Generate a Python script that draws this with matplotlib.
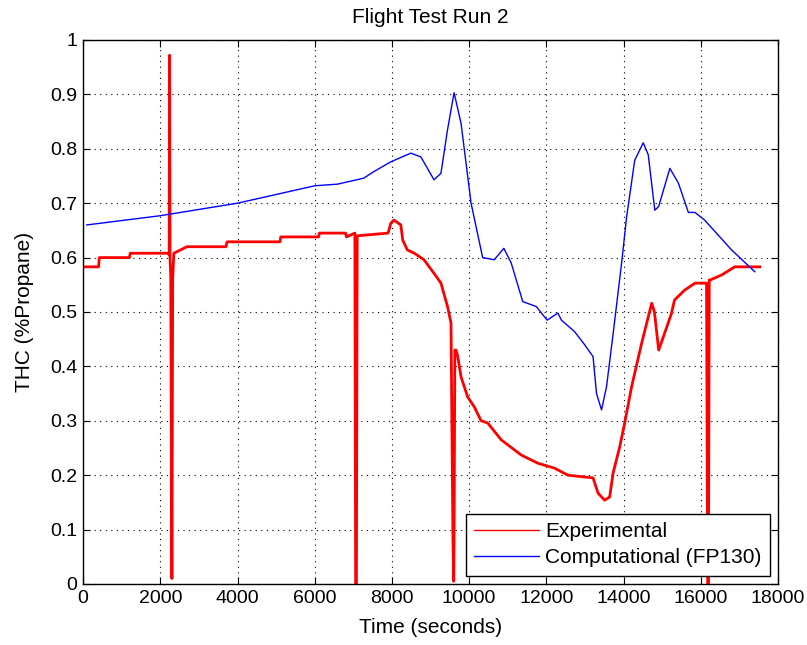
import matplotlib
matplotlib.use("Agg")
import matplotlib.pyplot as plt

plt.rcParams['font.family'] = ['Liberation Sans', 'DejaVu Sans']

# Computational (FP130)
comp_t = [95, 2000, 4000, 6000, 6590, 7270, 7530, 7970, 8490, 8750, 9090, 9270,
          9440, 9610, 9790, 10050, 10350, 10650, 10900, 11090, 11390, 11740,
          12020, 12300, 12390, 12730, 12990, 13210, 13300, 13430, 13560, 13730,
          13950, 14080, 14290, 14510, 14640, 14810, 14910, 15200, 15420, 15680,
          15850, 16100, 16800, 17400]
comp_v = [0.660, 0.677, 0.700, 0.732, 0.735, 0.746, 0.758, 0.776, 0.792, 0.785,
          0.743, 0.755, 0.835, 0.903, 0.847, 0.700, 0.600, 0.596, 0.617, 0.590,
          0.519, 0.510, 0.485, 0.498, 0.485, 0.464, 0.440, 0.418, 0.350, 0.320,
          0.363, 0.460, 0.590, 0.675, 0.779, 0.811, 0.789, 0.687, 0.694, 0.764,
          0.737, 0.683, 0.683, 0.669, 0.614, 0.574]

# Experimental (dropouts included)
exp_t = [0, 400, 420, 1200, 1220, 2200, 2230, 2240, 2250, 2270, 2300, 2320,
         2350, 2690, 3700, 3730, 5100, 5120, 6100, 6120, 6800, 6820, 7040,
         7060, 7080, 7100, 7900, 7970, 8050, 8230, 8280, 8400, 8580, 8830,
         9090, 9270, 9440, 9530, 9580, 9600, 9610, 9630, 9660, 9700, 9790,
         9960, 10130, 10310, 10480, 10830, 11350, 11780, 12210, 12560, 13210,
         13340, 13510, 13640, 13730, 13900, 14030, 14210, 14470, 14730, 14800,
         14910, 15000, 15240, 15320, 15580, 15850, 16150, 16180, 16200, 16220,
         16250, 16540, 16880, 17530]
exp_v = [0.583, 0.583, 0.600, 0.600, 0.608, 0.608, 0.605, 0.972, 0.600, 0.568,
         0.010, 0.560, 0.608, 0.620, 0.620, 0.629, 0.629, 0.638, 0.638, 0.645,
         0.645, 0.638, 0.645, 0.000, 0.000, 0.640, 0.645, 0.663, 0.669, 0.660,
         0.632, 0.614, 0.608, 0.596, 0.571, 0.553, 0.510, 0.480, 0.087, 0.005,
         0.087, 0.430, 0.430, 0.420, 0.381, 0.344, 0.326, 0.300, 0.296, 0.265,
         0.237, 0.222, 0.213, 0.200, 0.195, 0.167, 0.154, 0.160, 0.204, 0.252,
         0.296, 0.363, 0.443, 0.516, 0.500, 0.430, 0.448, 0.497, 0.522, 0.540,
         0.553, 0.553, 0.000, 0.000, 0.559, 0.559, 0.568, 0.583, 0.583]

fig = plt.figure(figsize=(8.07, 6.45), dpi=100)
ax = fig.add_axes([0.103, 0.0946, 0.861, 0.8434])

ax.plot(exp_t, exp_v, color='#ff0000', linewidth=2.0, label='Experimental')
ax.plot(comp_t, comp_v, color='#0000ff', linewidth=1.0, label='Computational (FP130)')

ax.set_xlim(0, 18000)
ax.set_ylim(0, 1)
ax.set_xticks(range(0, 18001, 2000))
ax.set_yticks([i / 10 for i in range(11)])
ax.set_yticklabels(['0', '0.1', '0.2', '0.3', '0.4', '0.5', '0.6', '0.7', '0.8', '0.9', '1'])
ax.grid(True, color='black', linestyle=(0, (1, 4)), linewidth=0.8)
ax.tick_params(direction='in', top=True, right=True, labelsize=14, length=5, pad=4)
for s in ax.spines.values():
    s.set_linewidth(1.0)

ax.set_title('Flight Test Run 2', fontsize=15, pad=12)
ax.set_xlabel('Time (seconds)', fontsize=15, labelpad=8)
ax.set_ylabel('THC (%Propane)', fontsize=15, labelpad=12)

leg = ax.legend(loc='lower right', fontsize=15, fancybox=False, framealpha=1,
                edgecolor='black', handlelength=3.1, handletextpad=0.3,
                labelspacing=0.35, borderpad=0.4, borderaxespad=0.4)
leg.get_frame().set_linewidth(1.0)
leg.get_lines()[0].set_linewidth(1.0)

fig.savefig('out.png', dpi=100)
